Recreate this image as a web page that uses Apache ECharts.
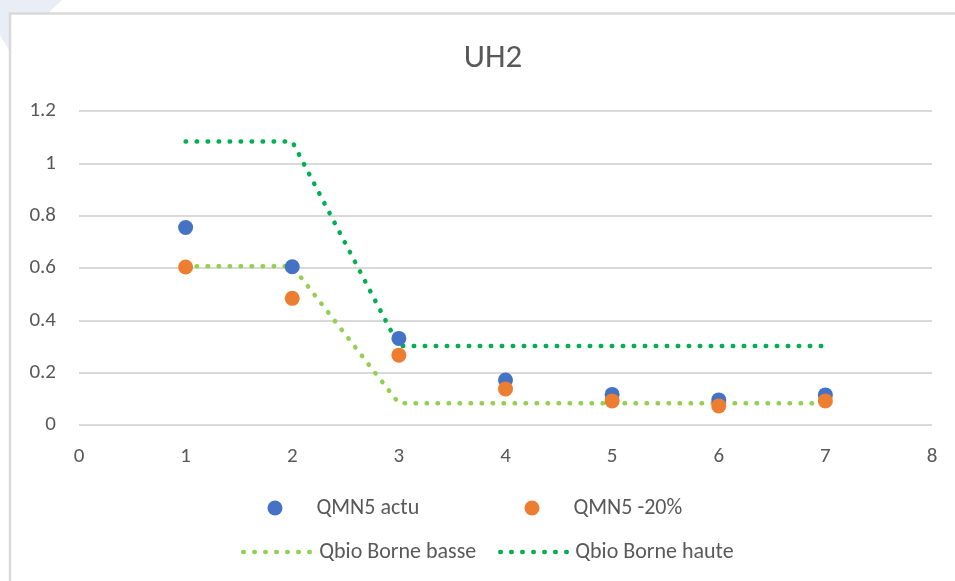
<!DOCTYPE html>
<html>
<head>
<meta charset="utf-8">
<title>UH2</title>
<script src="https://cdn.jsdelivr.net/npm/echarts@6/dist/echarts.min.js"></script>
<style>
  html, body { margin: 0; padding: 0; background: #ffffff; }
  #chart { width: 955px; height: 581px; }
</style>
</head>
<body>
<div id="chart"></div>
<script>
// Station UH2: QMN5 flows vs. biological flow bounds
const chartTitle = 'UH2';
const xTicks = [0, 1, 2, 3, 4, 5, 6, 7, 8];
const yTicks = [0, 0.2, 0.4, 0.6, 0.8, 1, 1.2];

const stations = [1, 2, 3, 4, 5, 6, 7];
const qmn5Actu = [0.755, 0.605, 0.331, 0.172, 0.117, 0.096, 0.115];
const qmn5Moins20 = [0.604, 0.484, 0.267, 0.138, 0.092, 0.073, 0.092];

const borneBasseX = [1, 2, 3, 7];
const borneBasseY = [0.607, 0.607, 0.083, 0.083];
const borneHauteX = [1, 2, 3, 7];
const borneHauteY = [1.083, 1.083, 0.302, 0.302];

const seriesNames = ['QMN5 actu', 'QMN5 -20%', 'Qbio Borne basse', 'Qbio Borne haute'];
const seriesColors = ['#4472C4', '#ED7D31', '#92D050', '#00B050'];

const FONT = 'Carlito, Lato, "Liberation Sans", sans-serif';
const TEXT = '#595959';
const GRIDLINE = '#d9d9d9';
const DOT = { width: 4.5, type: [0.5, 10.5], cap: 'round' };

const pairs = (xs, ys) => xs.map((x, i) => [x, ys[i]]);

const chart = echarts.init(document.getElementById('chart'), null, { renderer: 'canvas' });

// One legend block per series so each entry sits in its own column
function markerLegend(i, left, top, textPad) {
  return {
    data: [seriesNames[i]],
    left: left, top: top,
    icon: 'circle',
    itemWidth: 15, itemHeight: 15,
    padding: 0,
    selectedMode: false,
    textStyle: { fontFamily: FONT, fontSize: 22, color: TEXT, padding: [0, 0, 0, textPad] }
  };
}
function lineLegend(i, left, top, textPad) {
  return {
    data: [seriesNames[i]],
    left: left, top: top,
    itemWidth: 70, itemHeight: 15,
    padding: 0,
    selectedMode: false,
    itemStyle: { opacity: 0 },
    lineStyle: { color: seriesColors[i], width: DOT.width, type: DOT.type, cap: DOT.cap, opacity: 1 },
    textStyle: { fontFamily: FONT, fontSize: 22, color: TEXT, padding: [0, 0, 0, textPad] }
  };
}

chart.setOption({
  backgroundColor: '#ffffff',
  animation: false,
  title: {
    text: chartTitle,
    left: 488,
    textAlign: 'center',
    top: 37,
    textStyle: { fontFamily: FONT, fontSize: 33, fontWeight: 'normal', color: TEXT }
  },
  graphic: [
    {
      type: 'polygon', z: -10, silent: true,
      shape: { points: [[0, 0], [62, 0], [9, 50], [0, 35]] },
      style: { fill: '#e9edf6' }
    },
    {
      type: 'rect', z: -5, silent: true,
      shape: { x: 10, y: 13.5, width: 1000, height: 1000 },
      style: { fill: '#ffffff', stroke: GRIDLINE, lineWidth: 2.5 }
    }
  ],
  legend: [
    markerLegend(0, 267.5, 497, 29),
    markerLegend(1, 524.5, 497, 29),
    lineLegend(2, 241, 541, 1),
    lineLegend(3, 498, 541, 0)
  ],
  grid: { left: 79, right: 23, top: 111, bottom: 156, containLabel: false },
  xAxis: {
    type: 'value',
    min: xTicks[0],
    max: xTicks[xTicks.length - 1],
    interval: 1,
    axisLine: { show: false },
    axisTick: { show: false },
    splitLine: { show: false },
    axisLabel: { margin: 21, fontFamily: FONT, fontSize: 21, color: TEXT }
  },
  yAxis: {
    type: 'value',
    min: yTicks[0],
    max: yTicks[yTicks.length - 1],
    interval: 0.2,
    axisLine: { show: false },
    axisTick: { show: false },
    splitLine: { show: true, lineStyle: { color: GRIDLINE, width: 2 } },
    axisLabel: { margin: 23, fontFamily: FONT, fontSize: 21, color: TEXT }
  },
  series: [
    {
      name: seriesNames[2], type: 'line', z: 2,
      data: pairs(borneBasseX, borneBasseY),
      symbol: 'none',
      itemStyle: { color: seriesColors[2] },
      lineStyle: Object.assign({ color: seriesColors[2] }, DOT)
    },
    {
      name: seriesNames[3], type: 'line', z: 2,
      data: pairs(borneHauteX, borneHauteY),
      symbol: 'none',
      itemStyle: { color: seriesColors[3] },
      lineStyle: Object.assign({ color: seriesColors[3] }, DOT)
    },
    {
      name: seriesNames[0], type: 'scatter', z: 3,
      data: pairs(stations, qmn5Actu),
      symbol: 'circle', symbolSize: 15,
      itemStyle: { color: seriesColors[0], opacity: 1 }
    },
    {
      name: seriesNames[1], type: 'scatter', z: 4,
      data: pairs(stations, qmn5Moins20),
      symbol: 'circle', symbolSize: 15,
      itemStyle: { color: seriesColors[1], opacity: 1 }
    }
  ]
});
</script>
</body>
</html>
